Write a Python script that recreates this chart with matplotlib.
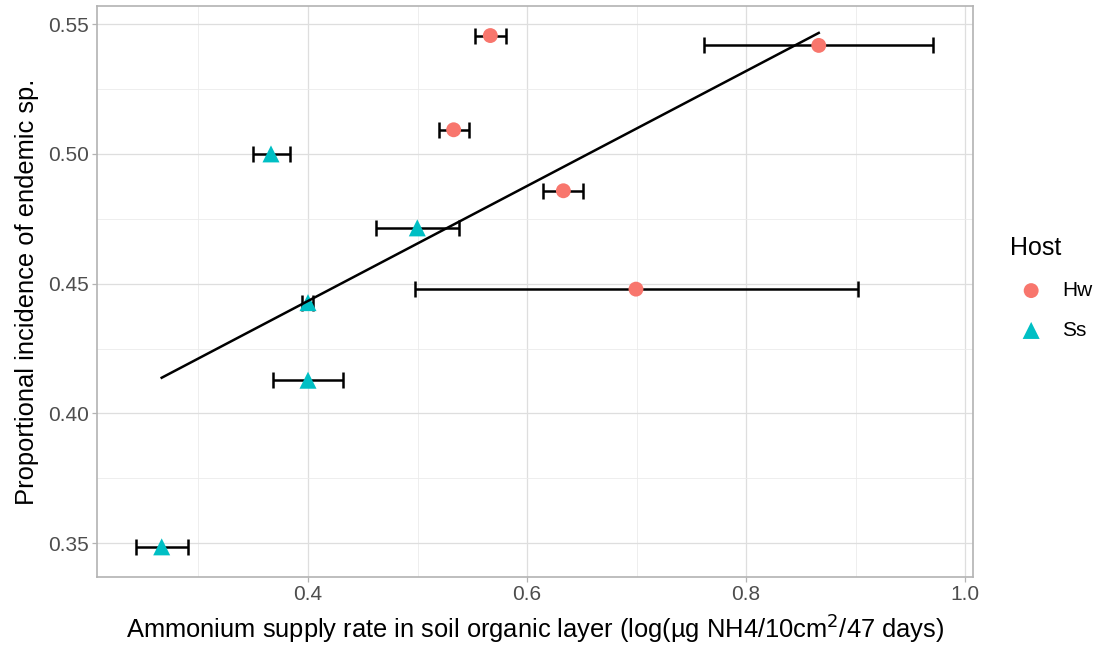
import matplotlib.pyplot as plt
import numpy as np

# Data
hw_x = [0.5665, 0.533, 0.6332, 0.6995, 0.8664]
hw_y = [0.5456, 0.5093, 0.4858, 0.4479, 0.5418]
hw_xlo = [0.5525, 0.5193, 0.6146, 0.4977, 0.7616]
hw_xhi = [0.5808, 0.547, 0.6514, 0.902, 0.971]

ss_x = [0.3662, 0.4998, 0.400, 0.400, 0.2664]
ss_y = [0.500, 0.4715, 0.4427, 0.4128, 0.3486]
ss_xlo = [0.350, 0.4621, 0.3948, 0.3683, 0.2427]
ss_xhi = [0.3833, 0.5376, 0.4043, 0.4317, 0.2907]

plt.rcParams['font.family'] = ['Liberation Sans', 'DejaVu Sans']

fig = plt.figure(figsize=(10.97, 6.49), dpi=100)
ax = fig.add_axes([0.0884, 0.111, 0.7986, 0.8798])

# Error bars
for xs, ys, lo, hi in [(hw_x, hw_y, hw_xlo, hw_xhi), (ss_x, ss_y, ss_xlo, ss_xhi)]:
    xs = np.array(xs)
    err = [xs - np.array(lo), np.array(hi) - xs]
    ax.errorbar(xs, ys, xerr=err, fmt='none', ecolor='black', elinewidth=1.8,
                capsize=5.5, capthick=1.8, zorder=3)

ax.scatter(hw_x, hw_y, s=115, marker='o', color='#F8766D', edgecolors='none', zorder=4, label='Hw')
ax.scatter(ss_x, ss_y, s=150, marker='^', color='#00BFC4', edgecolors='none', zorder=4, label='Ss')

# Linear fit over all points
all_x = np.array(hw_x + ss_x)
all_y = np.array(hw_y + ss_y)
slope, icpt = np.polyfit(all_x, all_y, 1)
fx = np.array([all_x.min(), all_x.max()])
ax.plot(fx, slope * fx + icpt, color='black', lw=1.8, zorder=5)

ax.set_xlim(0.2073, 1.0073)
ax.set_ylim(0.337, 0.557)
ax.set_xticks([0.4, 0.6, 0.8, 1.0])
ax.set_xticklabels(['0.4', '0.6', '0.8', '1.0'])
ax.set_yticks([0.35, 0.40, 0.45, 0.50, 0.55])
ax.set_yticklabels(['0.35', '0.40', '0.45', '0.50', '0.55'])
ax.set_xticks([0.3, 0.5, 0.7, 0.9], minor=True)
ax.set_yticks([0.375, 0.425, 0.475, 0.525], minor=True)

ax.grid(which='major', color='#DEDEDE', lw=0.9)
ax.grid(which='minor', color='#EBEBEB', lw=0.6)
ax.set_axisbelow(True)
for sp in ax.spines.values():
    sp.set_color('#B3B3B3')
    sp.set_linewidth(1.2)
ax.tick_params(which='major', colors='#B3B3B3', labelcolor='#4D4D4D', labelsize=15,
               length=3.5, width=0.9, pad=2.5)
ax.tick_params(which='minor', length=0)

ax.set_xlabel('Ammonium supply rate in soil organic layer (log(µg NH4/10cm$^2$/47 days)',
              fontsize=18.4, labelpad=5)
ax.set_ylabel('Proportional incidence of endemic sp.', fontsize=18.4, labelpad=6)

leg = fig.legend(loc='upper left', bbox_to_anchor=(0.921, 0.636), frameon=False,
                 title='Host', fontsize=15, title_fontsize=18, handletextpad=0.5,
                 handlelength=2.0, labelspacing=1.0, borderaxespad=0, borderpad=0)
leg._legend_box.align = 'left'

fig.savefig('out.png', dpi=100)
